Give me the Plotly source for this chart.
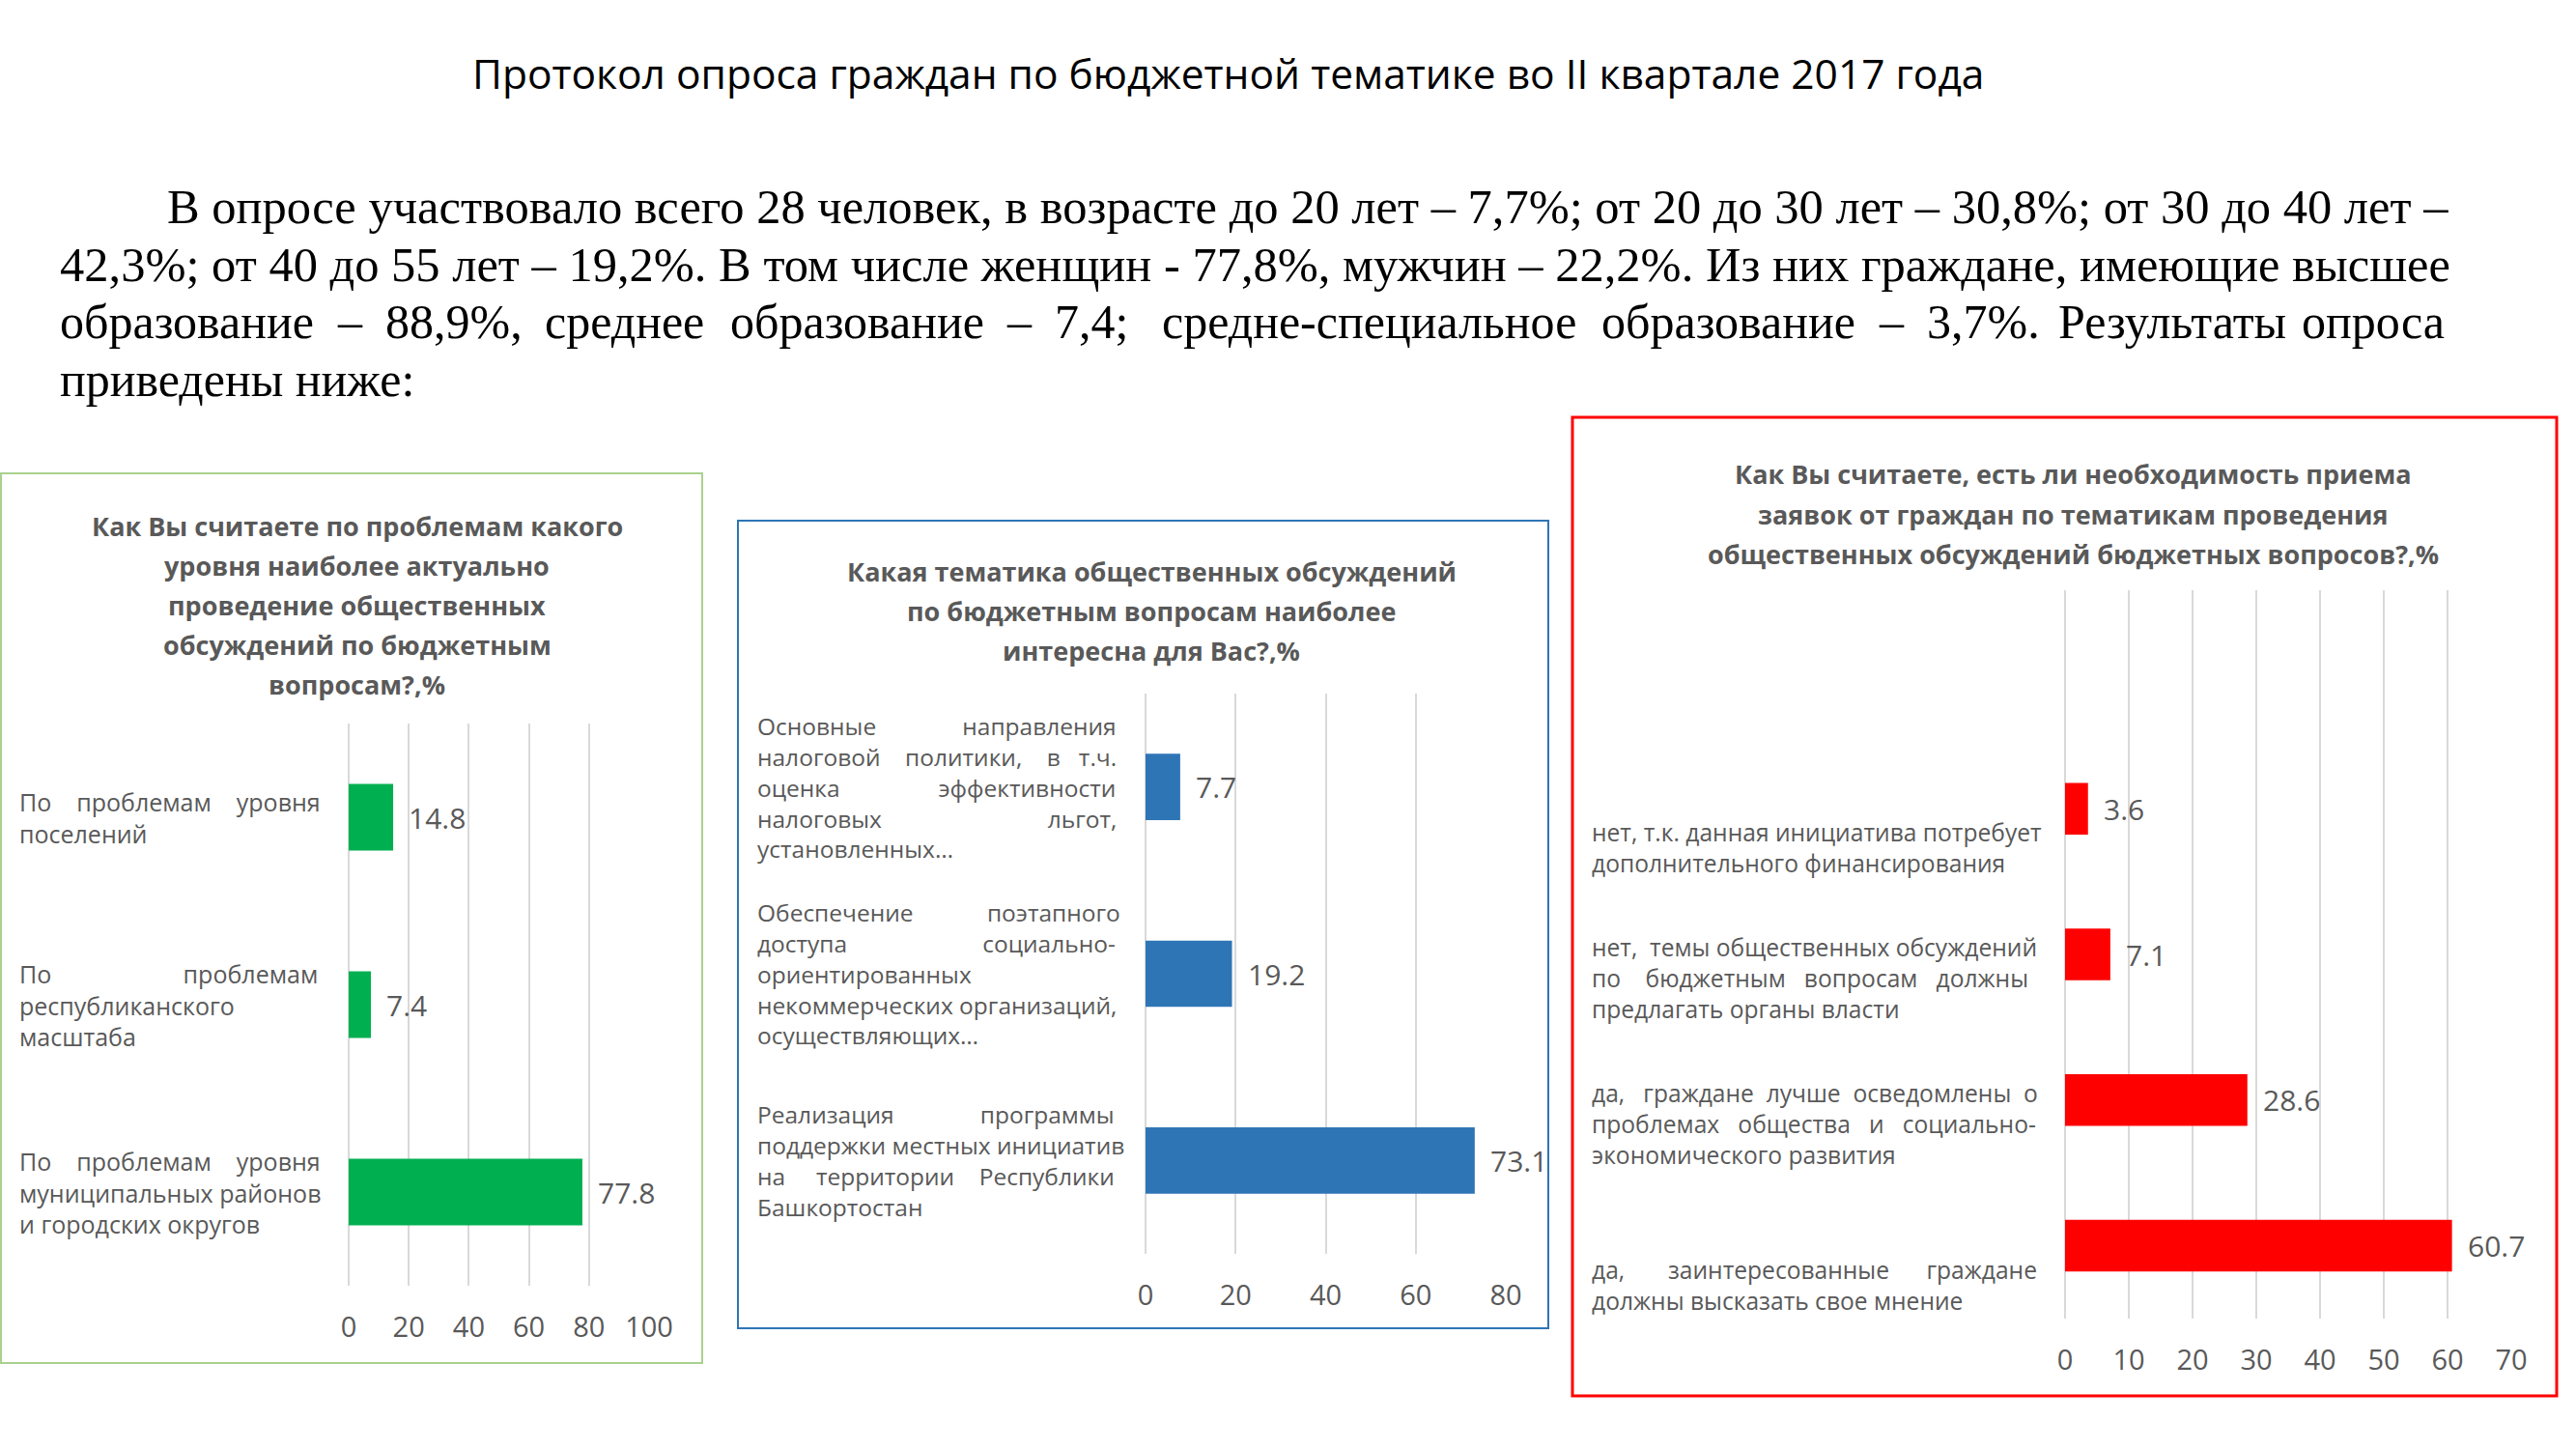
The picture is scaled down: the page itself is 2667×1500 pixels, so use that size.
import plotly.graph_objects as go

W, H = 2667, 1500

# --- данные ---
page_title = "Протокол опроса граждан по бюджетной тематике во II квартале 2017 года"
intro_line1 = "В опросе участвовало всего 28 человек, в возрасте до 20 лет – 7,7%; от 20 до 30 лет – 30,8%; от 30 до 40 лет –"
intro_line2 = "42,3%; от 40 до 55 лет – 19,2%. В том числе женщин - 77,8%, мужчин – 22,2%. Из них граждане, имеющие высшее"
intro_line3 = ["образование", "–", "88,9%,", "среднее", "образование", "–", "7,4;",
               "средне-специальное", "образование", "–", "3,7%.", "Результаты", "опроса"]
intro_line4 = "приведены ниже:"

green_title = ["Как Вы считаете по проблемам какого", "уровня наиболее актуально",
               "проведение общественных", "обсуждений по бюджетным", "вопросам?,%"]
green_cats = ["По проблемам уровня<br>поселений",
              "По проблемам<br>республиканского<br>масштаба",
              "По проблемам уровня<br>муниципальных районов<br>и городских округов"]
green_vals = [14.8, 7.4, 77.8]
green_ticks = [0, 20, 40, 60, 80, 100]

blue_title = ["Какая тематика общественных обсуждений", "по бюджетным вопросам наиболее",
              "интересна для Вас?,%"]
blue_cats = ["Основные направления<br>налоговой политики, в т.ч.<br>оценка эффективности<br>налоговых льгот,<br>установленных…",
             "Обеспечение поэтапного<br>доступа социально-<br>ориентированных<br>некоммерческих организаций,<br>осуществляющих…",
             "Реализация программы<br>поддержки местных инициатив<br>на территории Республики<br>Башкортостан"]
blue_vals = [7.7, 19.2, 73.1]
blue_ticks = [0, 20, 40, 60, 80]

red_title = ["Как Вы считаете, есть ли необходимость приема", "заявок от граждан по тематикам проведения",
             "общественных обсуждений бюджетных вопросов?,%"]
red_cats = ["нет, т.к. данная инициатива потребует<br>дополнительного финансирования",
            "нет, темы общественных обсуждений<br>по бюджетным вопросам должны<br>предлагать органы власти",
            "да, граждане лучше осведомлены о<br>проблемах общества и социально-<br>экономического развития",
            "да, заинтересованные граждане<br>должны высказать свое мнение"]
red_vals = [3.6, 7.1, 28.6, 60.7]
red_ticks = [0, 10, 20, 30, 40, 50, 60, 70]


def px(x):
    return x / W


def py(y):
    return 1 - y / H


GREY = "#595959"
SANS = "Open Sans"
SERIF = "Liberation Serif"

# rough Open Sans advance widths (em), used only to justify the category labels
CW = dict(zip("абвгдеёжзийклмнопрстуфхцчшщъыьэюя",
              [.556, .600, .566, .456, .578, .561, .561, .828, .488, .633, .633, .541, .600,
               .755, .625, .601, .618, .613, .479, .488, .500, .769, .511, .637, .592, .899,
               .914, .633, .807, .578, .492, .846, .578]))
CW.update({"П": .727, "О": .779, "Н": .737, "Р": .603, "Б": .604, " ": .26, ",": .25,
           ".": .266, "-": .322, "…": .8})


def justify(text, width, size):
    lines = text.split("<br>")
    out = []
    for i, ln in enumerate(lines):
        words = ln.split(" ")
        if i == len(lines) - 1 or len(words) < 2:
            out.append(ln)
            continue
        nat = sum(CW.get(ch, .6) for ch in ln) * size
        n_extra = max(0, round((width - nat) / (0.26 * size)))
        gaps = len(words) - 1
        s = words[0]
        for g, w in enumerate(words[1:]):
            k = n_extra // gaps + (1 if g < n_extra % gaps else 0)
            s += " " + "\u00a0" * k + w
        out.append(s)
    return "<br>".join(out)


def left_text(x, y, text, font, width, **kw):
    # fixed-width box, left aligned: text starts at x whatever the measured width
    d = dict(x=x, y=y, text=text, showarrow=False, xanchor="left", yanchor="middle",
             align="left", width=width, font=font, borderpad=0)
    d.update(kw)
    return d


fig = go.Figure()
ann = []
shapes = []

panels = [
    dict(ax="", title=green_title, cats=green_cats, vals=green_vals, ticks=green_ticks,
         color="#00B050", border="#A9D18E", bw=2, box=(1, 490, 727, 1411), fs=25,
         plot=(361, 749, 672, 1331), lx=19, lw=312, tcx=370, ty=544, empty=0, lab_shift=None),
    dict(ax="2", title=blue_title, cats=blue_cats, vals=blue_vals, ticks=blue_ticks,
         color="#2E75B6", border="#2E75B6", bw=2, box=(764, 539, 1603, 1375), fs=24.5,
         plot=(1186, 718, 1559, 1298), lx=783, lw=374, tcx=1192, ty=591, empty=0, lab_shift=None),
    dict(ax="3", title=red_title, cats=red_cats, vals=red_vals, ticks=red_ticks,
         color="#FF0000", border="#FF0000", bw=3, box=(1628, 432, 2647, 1445), fs=24.6,
         plot=(2138, 611, 2600, 1365), lx=1647, lw=464, tcx=2146, ty=491, empty=1, lab_shift=-74),
]

for p in panels:
    xa = "x" + p["ax"]
    ya = "y" + p["ax"]
    n = len(p["cats"])
    fig.add_trace(go.Bar(x=p["vals"], y=p["cats"], orientation="h", xaxis=xa, yaxis=ya,
                         marker=dict(color=p["color"], line=dict(width=0)), width=0.355,
                         showlegend=False, hoverinfo="skip"))
    x0, y0, x1, y1 = p["plot"]
    fig.update_layout(**{
        "xaxis" + p["ax"]: dict(domain=[px(x0), px(x1)], anchor=ya, range=[0, p["ticks"][-1]],
                                tickvals=p["ticks"], showgrid=True, gridcolor="#D9D9D9", gridwidth=2,
                                zeroline=True, zerolinecolor="#D9D9D9", zerolinewidth=2,
                                showline=False, ticks="", ticklabelstandoff=23, automargin=False,
                                tickfont=dict(family=SANS, size=29, color=GREY), fixedrange=True),
        "yaxis" + p["ax"]: dict(domain=[py(y1), py(y0)], anchor=xa, type="category",
                                categoryorder="array", categoryarray=list(reversed(p["cats"])),
                                range=[-0.5, n - 0.5 + p["empty"]], showticklabels=False,
                                automargin=False, showgrid=False, zeroline=False,
                                showline=False, fixedrange=True),
    })
    for c, v in zip(p["cats"], p["vals"]):
        # value label
        ann.append(left_text(v, c, f"{v}", dict(family=SANS, size=30, color=GREY), 90,
                             xref=xa, yref=ya, xshift=15))
        # category label (left, justified)
        lab = left_text(px(p["lx"]), c, justify(c, p["lw"], p["fs"]),
                        dict(family=SANS, size=p["fs"], color=GREY), p["lw"] + 40,
                        xref="paper", yref=ya)
        if p["lab_shift"] is not None:
            lab.update(yanchor="bottom", yshift=p["lab_shift"])
        ann.append(lab)
    for i, t in enumerate(p["title"]):
        ann.append(dict(x=px(p["tcx"]), y=py(p["ty"] + 41 * i), xref="paper", yref="paper",
                        text=f"<b>{t}</b>", showarrow=False, xanchor="center", yanchor="middle",
                        font=dict(family=SANS, size=27, color=GREY)))
    bx0, by0, bx1, by1 = p["box"]
    shapes.append(dict(type="rect", xref="paper", yref="paper", x0=px(bx0), x1=px(bx1),
                       y0=py(by1), y1=py(by0), line=dict(color=p["border"], width=p["bw"])))

# page title and paragraph
ann.append(dict(x=px(1271), y=py(75), xref="paper", yref="paper", text=page_title,
                showarrow=False, xanchor="center", yanchor="middle",
                font=dict(family=SANS, size=42.5, color="black")))
f12 = dict(family=SERIF, size=50.5, color="black")
ftxt = dict(family=SERIF, size=50, color="black")
ann.append(left_text(px(172), py(214), intro_line1, f12, 2450, xref="paper", yref="paper"))
ann.append(left_text(px(61), py(274), intro_line2, f12, 2550, xref="paper", yref="paper"))
word_x = [61, 348, 398, 563, 755, 1041, 1091, 1202, 1657, 1944, 1994, 2130, 2382]
for wx, w in zip(word_x, intro_line3):
    ann.append(left_text(px(wx), py(333), w, ftxt, 500, xref="paper", yref="paper"))
ann.append(left_text(px(61), py(393), intro_line4, ftxt, 600, xref="paper", yref="paper"))

fig.update_layout(width=W, height=H, autosize=False,
                  margin=dict(l=0, r=0, t=0, b=0, pad=0, autoexpand=False),
                  paper_bgcolor="white", plot_bgcolor="white", showlegend=False,
                  annotations=ann, shapes=shapes)

fig.write_html("out.html", config={"displayModeBar": False},
               post_script="document.body.style.margin='0px';"
                           "document.body.style.overflow='hidden';"
                           "document.documentElement.style.overflow='hidden';")
